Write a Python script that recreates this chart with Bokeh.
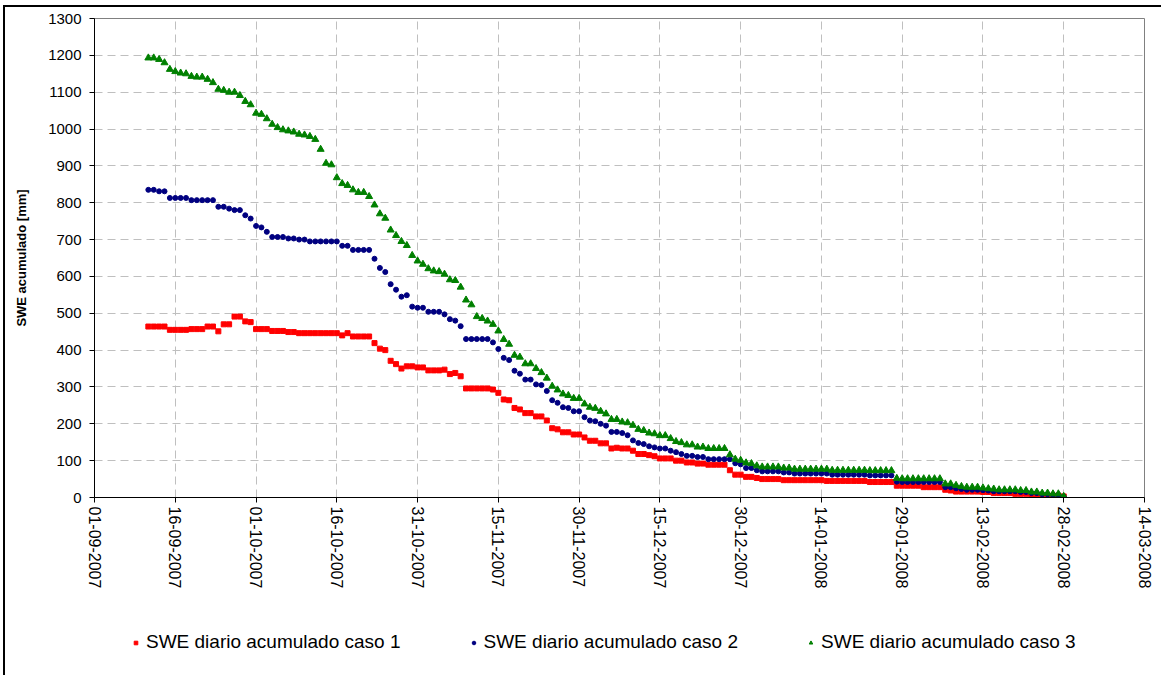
from datetime import datetime
import pandas as pd
from bokeh.plotting import figure
from bokeh.layouts import column
from bokeh.models import Range1d, FixedTicker, DatetimeTickFormatter, Legend, LegendItem
from bokeh.embed import file_html
from bokeh.resources import INLINE

# ---- data -------------------------------------------------------------
start_date = "2007-09-11"   # first daily value, last value on 28-02-2008

caso1 = [464, 464, 464, 464, 455, 455, 455, 455, 457, 457,
         457, 464, 464, 451, 470, 470, 491, 491, 478, 476,
         457, 457, 457, 452, 452, 452, 449, 449, 446, 446,
         446, 446, 446, 446, 446, 446, 440, 446, 437, 437,
         437, 437, 419, 404, 400, 371, 362, 350, 356, 356,
         353, 353, 345, 345, 345, 347, 335, 338, 329, 296,
         296, 296, 296, 296, 293, 284, 266, 264, 243, 239,
         229, 229, 220, 220, 209, 188, 185, 177, 177, 171,
         171, 163, 154, 154, 147, 147, 133, 135, 133, 133,
         127, 118, 118, 115, 112, 106, 106, 106, 100, 100,
         95, 95, 92, 92, 89, 89, 89, 89, 74, 62,
         62, 56, 56, 53, 50, 50, 50, 50, 47, 47,
         47, 47, 47, 47, 47, 47, 45, 45, 45, 45,
         45, 45, 45, 45, 42, 42, 42, 42, 42, 32,
         32, 32, 32, 32, 28, 28, 28, 28, 21, 19,
         16, 16, 16, 16, 16, 15, 15, 12, 12, 12,
         12, 10, 10, 10, 8, 8, 5, 5, 5, 5, 3]

caso2 = [835, 835, 831, 831, 813, 813, 813, 813, 807, 807,
         807, 807, 807, 789, 789, 784, 780, 780, 766, 757,
         737, 733, 721, 707, 707, 707, 703, 703, 700, 700,
         695, 695, 695, 695, 695, 695, 683, 683, 672, 672,
         672, 672, 648, 623, 612, 579, 564, 545, 549, 518,
         515, 515, 504, 504, 504, 497, 484, 480, 465, 430,
         430, 430, 430, 430, 421, 403, 379, 373, 344, 336,
         320, 320, 307, 305, 289, 264, 257, 245, 243, 234,
         234, 218, 209, 207, 200, 195, 178, 178, 175, 169,
         155, 148, 145, 139, 136, 133, 133, 127, 123, 118,
         113, 113, 110, 110, 104, 104, 104, 104, 104, 93,
         90, 80, 80, 74, 71, 71, 71, 71, 68, 68,
         65, 65, 65, 65, 65, 65, 65, 62, 62, 62,
         62, 62, 62, 62, 60, 60, 60, 60, 60, 43,
         42, 42, 42, 42, 42, 42, 42, 42, 28, 28,
         25, 23, 21, 21, 21, 20, 19, 17, 17, 17,
         17, 17, 15, 15, 12, 12, 9, 9, 7, 7, 2]

caso3 = [1193, 1193, 1189, 1180, 1162, 1156, 1152, 1150, 1143, 1141,
         1141, 1135, 1126, 1108, 1105, 1100, 1100, 1091, 1075, 1066,
         1043, 1040, 1028, 1013, 1004, 998, 995, 992, 986, 984,
         980, 972, 945, 907, 903, 868, 852, 847, 835, 828,
         828, 817, 794, 770, 758, 726, 711, 695, 684, 657,
         642, 633, 621, 615, 613, 606, 591, 589, 571, 536,
         523, 491, 486, 479, 470, 452, 429, 416, 386, 381,
         363, 363, 350, 339, 324, 302, 292, 281, 277, 269,
         269, 254, 245, 242, 234, 227, 212, 212, 205, 203,
         196, 185, 182, 175, 173, 168, 168, 160, 152, 149,
         143, 143, 137, 137, 133, 133, 133, 133, 116, 104,
         101, 94, 92, 86, 83, 83, 83, 83, 80, 80,
         77, 77, 77, 77, 77, 77, 77, 74, 74, 74,
         74, 74, 74, 74, 73, 73, 73, 73, 73, 52,
         51, 51, 51, 51, 51, 51, 51, 51, 37, 37,
         33, 30, 28, 28, 28, 26, 24, 23, 21, 21,
         21, 21, 19, 19, 15, 15, 12, 12, 10, 10, 3]

series_names = ["SWE diario acumulado caso 1",
                "SWE diario acumulado caso 2",
                "SWE diario acumulado caso 3"]

tick_labels = ["01-09-2007", "16-09-2007", "01-10-2007", "16-10-2007",
               "31-10-2007", "15-11-2007", "30-11-2007", "15-12-2007",
               "30-12-2007", "14-01-2008", "29-01-2008", "13-02-2008",
               "28-02-2008", "14-03-2008"]
y_ticks = [0, 100, 200, 300, 400, 500, 600, 700, 800, 900, 1000, 1100, 1200, 1300]

# ---- styles -----------------------------------------------------------
FONT = "Liberation Sans"
series_style = [
    dict(marker="square", size=5, fill_color="#FF0000", line_color="#FF0000"),
    dict(marker="circle", size=5, fill_color="#000080", line_color="#000080"),
    dict(marker="triangle", size=7, fill_color="#008000", line_color="#008000"),
]

# ---- main figure --------------------------------------------------------
dates = pd.date_range(start_date, periods=len(caso1), freq="D")
tick_dates = [datetime.strptime(t, "%d-%m-%Y") for t in tick_labels]
tick_ms = [pd.Timestamp(d).value // 10**6 for d in tick_dates]

xr = Range1d(tick_dates[0], tick_dates[-1])
p = figure(frame_width=1050, frame_height=479,
           output_backend="svg", toolbar_location=None,
           x_axis_type="datetime", x_range=xr,
           y_range=Range1d(y_ticks[0], y_ticks[-1]),
           min_border_left=89, min_border_right=17,
           min_border_top=11, min_border_bottom=120)
p.background_fill_color = "white"
p.border_fill_color = "white"
p.outline_line_color = "#808080"
p.outline_line_width = 1

p.xaxis.ticker = FixedTicker(ticks=tick_ms)
fmt = "%d-%m-%Y"
p.xaxis.formatter = DatetimeTickFormatter(
    milliseconds=fmt, seconds=fmt, minsec=fmt, minutes=fmt, hourmin=fmt,
    hours=fmt, days=fmt, months=fmt, years=fmt)
p.xaxis.major_label_orientation = "vertical"
p.yaxis.ticker = FixedTicker(ticks=y_ticks)

for ax in (p.xaxis[0], p.yaxis[0]):
    ax.axis_line_color = "black"
    ax.axis_line_width = 1
    ax.major_tick_line_color = "black"
    ax.major_tick_in = 0
    ax.major_tick_out = 5
    ax.minor_tick_line_color = None
    ax.major_label_text_font = FONT
    ax.major_label_text_color = "black"
p.xaxis.major_label_text_font_size = "16px"
p.yaxis.major_label_text_font_size = "15px"
p.xaxis.major_label_standoff = 4
p.yaxis.major_label_standoff = 8

p.yaxis.axis_label = "SWE acumulado [mm]"
p.yaxis.axis_label_text_font = FONT
p.yaxis.axis_label_text_font_size = "13px"
p.yaxis.axis_label_text_font_style = "bold"
p.yaxis.axis_label_text_color = "black"
p.yaxis.axis_label_standoff = 16

for g in (p.xgrid[0], p.ygrid[0]):
    g.grid_line_color = "#BFBFBF"
    g.grid_line_dash = "8 5"
    g.grid_line_width = 1

series = list(zip([caso1, caso2, caso3], series_style))
for vals, st in series:
    p.scatter(dates, vals, **st)

# ---- legend strip below the chart --------------------------------------
# (its frame is aligned with the main frame by the column layout; the
#  same series are bound here but lie outside this strip's y-range, so
#  only the legend keys are seen)
lf = figure(width=1156, height=58, output_backend="svg", toolbar_location=None,
            x_axis_type=None, y_axis_type=None,
            x_range=xr, y_range=Range1d(2000, 2001),
            min_border_left=89, min_border_right=17,
            min_border_top=0, min_border_bottom=0)
lf.xgrid.visible = False
lf.ygrid.visible = False
lf.outline_line_color = None
lf.border_fill_color = "white"
lf.background_fill_color = "white"

keys = [lf.scatter(dates, vals, **st) for vals, st in series]
legend = Legend(items=[LegendItem(label=n, renderers=[k])
                       for n, k in zip(series_names, keys)],
                orientation="horizontal", location=(37, 22))
legend.border_line_color = None
legend.background_fill_alpha = 0
legend.label_text_font = FONT
legend.label_text_font_size = "19px"
legend.label_text_color = "black"
legend.glyph_width = 9
legend.glyph_height = 9
legend.label_standoff = 6
legend.spacing = 68
legend.margin = 0
legend.padding = 0
lf.add_layout(legend, "center")

layout = column(p, lf, spacing=0,
                styles={"margin-left": "3px", "margin-top": "5px",
                        "border-left": "2px solid black",
                        "border-top": "2px solid black"})

open("out.html", "w").write(file_html(layout, INLINE))
